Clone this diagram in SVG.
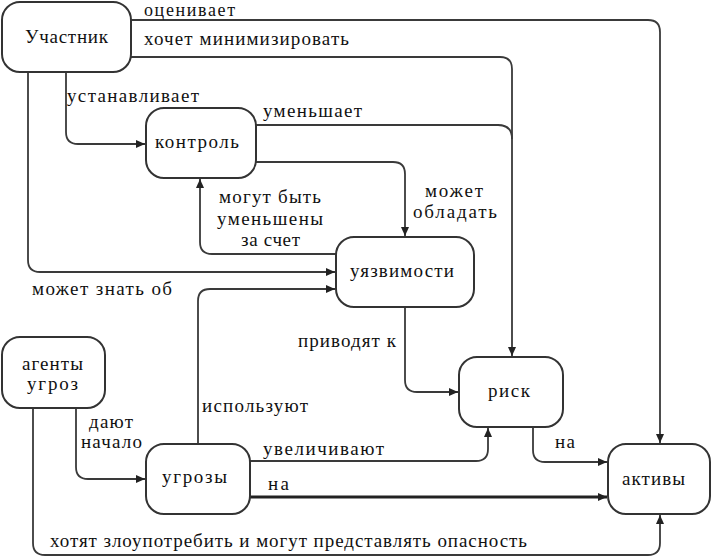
<svg xmlns="http://www.w3.org/2000/svg" width="712" height="558" viewBox="0 0 712 558" font-family="Liberation Serif, DejaVu Serif, serif" font-size="19">
<defs>
<style>
.node rect{fill:#fff;stroke:#333;stroke-width:2}
text{fill:#111}
.c path{fill:none;stroke:#3a3a3a;stroke-width:1.8}
.c path.a{marker-end:url(#arr)}
.c path.thick{stroke-width:3;stroke:#222}
</style>
<marker id="arr" markerUnits="userSpaceOnUse" markerWidth="9" markerHeight="8" refX="9" refY="4" orient="auto">
<path d="M0,0 L9,4 L0,8 z" fill="#222"/>
</marker>
</defs>
<rect width="712" height="558" fill="#fff"/>
<g class="c" id="connectors">
<path class="a" d="M131,20 H648 Q660,20 660,32 V443"/>
<path class="a" d="M131,57 H500 Q512,57 512,69 V356"/>
<path d="M256,125 H498 Q512,125 512,139"/>
<path class="a" d="M256,162 H393 Q405,162 405,174 V236"/>
<path class="a" d="M336,254 H212 Q200,254 200,242 V179"/>
<path class="a" d="M28,72 V260 Q28,272 40,272 H335"/>
<path class="a" d="M66,72 V132 Q66,144 78,144 H145"/>
<path class="a" d="M198,444 V301 Q198,289 210,289 H335"/>
<path class="a" d="M405,307 V380 Q405,392 417,392 H458"/>
<path class="a" d="M76,408 V467 Q76,479 88,479 H145"/>
<path class="a" d="M250,461 H476 Q488,461 488,449 V428"/>
<path class="a thick" d="M250,497 H607"/>
<path class="a" d="M533,427 V450 Q533,462 545,462 H607"/>
<path class="a" d="M33,408 V543 Q33,555 45,555 H648 Q660,555 660,543 V515"/>
</g>
<g id="labels">
<text x="144" y="16" font-size="18" textLength="91">оценивает</text>
<text x="144" y="45" textLength="205">хочет минимизировать</text>
<text x="67" y="102" textLength="132">устанавливает</text>
<text x="263" y="117" textLength="99">уменьшает</text>
<text x="425" y="197" textLength="58">может</text>
<text x="413" y="218" textLength="84">обладать</text>
<text x="219" y="203" textLength="102">могут быть</text>
<text x="217" y="225" textLength="106">уменьшены</text>
<text x="241" y="246" textLength="59">за счет</text>
<text x="32" y="295" textLength="140">может  знать об</text>
<text x="298" y="347" textLength="98">приводят к</text>
<text x="202" y="412" textLength="106">используют</text>
<text x="89" y="428" textLength="44">дают</text>
<text x="81" y="448" textLength="61">начало</text>
<text x="555" y="448" textLength="20">на</text>
<text x="263" y="455" textLength="121">увеличивают</text>
<text x="268" y="490" textLength="21">на</text>
<text x="50" y="547" textLength="477">хотят злоупотребить и могут представлять опасность</text>
</g>
<g class="node" id="uchastnik"><rect x="2" y="2" width="129" height="70" rx="18"/><text x="25" y="43" textLength="83">Участник</text></g>
<g class="node" id="kontrol"><rect x="146" y="108" width="110" height="70" rx="18"/><text x="155" y="148" textLength="84">контроль</text></g>
<g class="node" id="uyazvimosti"><rect x="336" y="237" width="138" height="70" rx="18"/><text x="350" y="277" textLength="104">уязвимости</text></g>
<g class="node" id="agenty"><rect x="2" y="337" width="103" height="71" rx="18"/><text x="22" y="370" textLength="61">агенты</text><text x="27" y="390" textLength="51">угроз</text></g>
<g class="node" id="ugrozy"><rect x="146" y="444" width="104" height="70" rx="18"/><text x="162" y="483" textLength="65">угрозы</text></g>
<g class="node" id="risk"><rect x="459" y="357" width="104" height="70" rx="18"/><text x="488" y="397" textLength="42">риск</text></g>
<g class="node" id="aktivy"><rect x="608" y="444" width="102" height="70" rx="18"/><text x="622" y="485" textLength="63">активы</text></g>
</svg>
